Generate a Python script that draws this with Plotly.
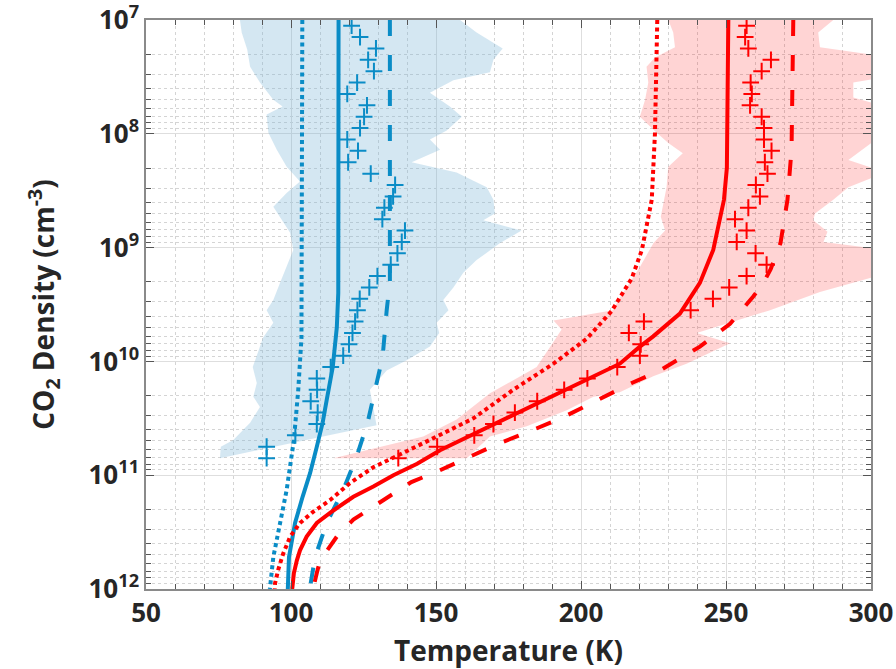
import plotly.graph_objects as go

# ---------------------------------------------------------------
# Data: temperature (K) versus log10 of CO2 number density (cm^-3)
# ---------------------------------------------------------------

# Model profiles, cold branch (blue)
BLUE_SOLID_LOGN = [7.0, 9.0, 9.4, 9.7, 10.05, 10.34, 10.54, 10.76, 10.98, 11.19, 11.42, 11.72, 11.98, 12.0]
BLUE_SOLID_T = [116.4, 116.4, 116.3, 115.8, 114.4, 112.3, 110.9, 108.8, 106.6, 104.0, 101.4, 99.3, 98.9, 98.9]

BLUE_DOT_LOGN = [7.0, 9.4, 9.8, 10.25, 10.69, 11.13, 11.42, 11.72, 11.98, 12.0]
BLUE_DOT_T = [103.9, 103.9, 103.6, 102.5, 101.0, 98.5, 96.2, 93.9, 92.8, 92.7]

BLUE_DASH_LOGN = [7.0, 9.3, 9.55, 9.96, 10.25, 10.54, 10.84, 11.13, 11.42, 11.72, 11.98, 12.0]
BLUE_DASH_T = [134.1, 134.1, 133.0, 131.6, 129.0, 126.4, 122.6, 118.0, 112.3, 108.3, 106.6, 106.5]

# Model profiles, warm branch (red)
RED_SOLID_LOGN = [7.0, 8.3, 8.58, 9.02, 9.31, 9.58, 9.78, 9.87, 10.02, 10.16, 10.38, 10.56, 10.78,
                  10.90, 11.0, 11.10, 11.19, 11.31, 11.42, 11.54, 11.66, 11.75, 11.86, 11.98, 12.0]
RED_SOLID_T = [250.8, 250.3, 249.3, 245.6, 241.0, 234.1, 224.9, 220.3, 213.4, 202.0, 184.7, 169.8, 151.4,
               143.5, 135.3, 128.4, 121.5, 114.6, 108.9, 105.4, 103.1, 102.0, 101.0, 100.5, 100.4]

RED_DOT_LOGN = [7.0, 8.0, 8.58, 9.02, 9.27, 9.45, 9.56, 9.80, 10.02, 10.25, 10.50, 10.69, 10.83,
                10.93, 11.07, 11.22, 11.32, 11.42, 11.54, 11.69, 11.83, 11.95, 12.0]
RED_DOT_T = [226.3, 225.5, 224.4, 221.0, 217.5, 213.4, 210.5, 202.0, 190.5, 176.6, 162.9, 147.9, 136.4,
             128.4, 120.3, 113.4, 107.7, 103.1, 99.7, 97.3, 95.6, 94.5, 94.4]

RED_DASH_LOGN = [7.0, 8.14, 8.58, 8.96, 9.19, 9.31, 9.43, 9.67, 9.87, 10.08, 10.19, 10.34, 10.49,
                 10.60, 10.73, 10.85, 10.97, 11.06, 11.16, 11.28, 11.39, 11.54, 11.66, 11.75, 11.86,
                 11.98, 12.0]
RED_DASH_T = [273.2, 272.6, 271.2, 268.8, 265.4, 262.9, 259.4, 251.4, 241.0, 227.2, 217.5, 205.4, 193.9,
              183.6, 170.9, 160.6, 150.2, 141.5, 135.3, 128.4, 121.5, 115.8, 112.3, 110.0, 108.9,
              107.7, 107.6]

# Retrieved temperatures (crosses), one per density bin
MARKER_LOGN = [7.05, 7.15, 7.25, 7.35, 7.45, 7.55, 7.65, 7.75, 7.85, 7.95,
               8.05, 8.15, 8.25, 8.35, 8.45, 8.55, 8.65, 8.75, 8.85, 8.95,
               9.05, 9.15, 9.25, 9.35, 9.45, 9.55, 9.65, 9.75, 9.85, 9.95,
               10.05, 10.15, 10.25, 10.35, 10.45, 10.55, 10.65, 10.75, 10.85]
BLUE_MARKER_T = [120.9, 123.8, 129.3, 126.6, 128.6, 122.8, 119.4, 126.2, 125.2, 123.8,
                 119.4, 123.1, 119.7, 127.5, 135.9, 135.2, 132.2, 131.5, 139.3, 138.2,
                 136.7, 134.4, 129.8, 127.0, 123.7, 122.9, 122.1, 121.2, 120.0, 118.0,
                 113.7, 108.9, 109.0, 106.8, 109.2, 108.9, 101.5, 91.6, 91.6]
RED_MARKER_T = [257.1, 256.6, 257.7, 265.5, 262.3, 258.5, 258.9, 258.3, 262.3, 263.1,
                263.1, 265.7, 263.4, 264.3, 260.3, 261.7, 257.7, 253.1, 257.1, 253.7,
                260.2, 264.0, 257.1, 251.1, 245.5, 237.8, 221.7, 216.5, 220.6, 220.3,
                212.5, 202.2, 194.2, 184.9, 177.2, 169.8, 163.2, 150.4, 137.0]

# Spread envelopes: upper (hot) edge listed top-down, lower (cold) edge listed bottom-up
BLUE_HI_LOGN = [7.0, 7.11, 7.25, 7.35, 7.46, 7.53, 7.64, 7.76, 7.85, 7.97, 8.05, 8.14, 8.25, 8.34,
                8.47, 8.58, 8.70, 8.76, 8.85, 8.96, 9.11, 9.22, 9.35, 9.46, 9.55, 9.66, 9.75, 9.87,
                9.99, 10.08, 10.25, 10.43, 10.56]
BLUE_HI_T = [158.3, 164.0, 173.0, 169.8, 168.6, 156.0, 147.9, 154.8, 158.9, 153.7, 147.9, 151.4, 141.6, 157.1,
             167.5, 169.8, 170.3, 166.3, 179.5, 172.1, 164.0, 159.4, 156.0, 152.5, 154.3, 150.2, 151.1, 147.9,
             139.9, 133.0, 127.2, 128.4, 129.5]
BLUE_LO_LOGN = [10.85, 10.75, 10.69, 10.54, 10.40, 10.31, 10.19, 10.05, 9.79, 9.66, 9.55, 9.46, 9.31,
                9.17, 9.02, 8.87, 8.73, 8.64, 8.52, 8.42, 8.29, 8.14, 7.99, 7.83, 7.76, 7.70, 7.55,
                7.41, 7.26, 7.11, 7.0]
BLUE_LO_T = [75.5, 75.8, 80.1, 85.9, 89.3, 87.0, 88.2, 86.8, 90.4, 93.9, 91.6, 93.9, 96.2,
             98.5, 100.8, 99.7, 96.2, 93.9, 98.5, 103.1, 98.5, 95.1, 92.2, 91.6, 97.1, 93.9, 89.3,
             85.9, 84.9, 83.0, 82.4]

RED_HI_LOGN = [7.0, 7.11, 7.24, 7.32, 7.50, 7.55, 7.68, 7.76, 7.99, 8.23, 8.34, 8.47, 8.58, 8.70,
               8.76, 8.86, 8.95, 9.02, 9.23, 9.39, 9.55, 9.75, 9.84, 10.02, 10.13, 10.27, 10.31,
               10.43, 10.57, 10.66, 10.85]
RED_HI_T = [287.0, 281.8, 282.4, 305.0, 305.0, 293.9, 293.9, 305.0, 305.0, 292.2, 305.0, 292.2, 287.0, 280.7,
            280.1, 285.0, 283.6, 305.0, 305.0, 282.4, 265.2, 239.9, 251.4, 236.4, 224.9, 213.4, 204.3,
            195.1, 181.3, 168.6, 160.6]
RED_LO_LOGN = [10.85, 10.66, 10.51, 10.28, 10.05, 9.81, 9.72, 9.64, 9.55, 9.44, 9.35, 9.17, 8.96,
               8.85, 8.73, 8.61, 8.47, 8.29, 8.17, 8.08, 7.99, 7.85, 7.70, 7.55, 7.41, 7.33, 7.24,
               7.11, 7.0]
RED_LO_T = [114.6, 145.6, 157.1, 168.6, 184.7, 191.0, 193.3, 190.5, 211.0, 213.4, 215.7, 220.3, 225.0,
            229.0, 227.5, 228.4, 229.5, 230.1, 235.1, 230.1, 226.1, 220.3, 222.1, 223.2, 222.6, 225.5, 232.4,
            231.8, 230.1]

Y_TICK_EXP = [7, 8, 9, 10, 11, 12]
X_TICKS = [50, 100, 150, 200, 250, 300]

# ---------------------------------------------------------------
BLUE = "#0a8cc6"
RED = "#ff0000"
BLUE_FILL = "rgba(120,180,215,0.32)"
RED_FILL = "rgba(255,0,0,0.17)"
FONT = "Open Sans"
TEXT = "#262626"


def dens(logs):
    return [10.0 ** v for v in logs]


fig = go.Figure()


def add_branch(color, fill, hi_t, hi_l, lo_t, lo_l, curves, mk_t):
    fig.add_trace(go.Scatter(
        x=hi_t + lo_t, y=dens(hi_l + lo_l), mode="lines", fill="toself",
        fillcolor=fill, line=dict(width=0), hoverinfo="skip", showlegend=False))
    for t, l, dash, w in curves:
        fig.add_trace(go.Scatter(
            x=t, y=dens(l), mode="lines",
            line=dict(color=color, width=w, dash=dash),
            showlegend=False))
    fig.add_trace(go.Scatter(
        x=mk_t, y=dens(MARKER_LOGN), mode="markers",
        marker=dict(symbol="cross-thin", size=12, line=dict(color=color, width=2)),
        showlegend=False))


add_branch(BLUE, BLUE_FILL, BLUE_HI_T, BLUE_HI_LOGN, BLUE_LO_T, BLUE_LO_LOGN,
           [(BLUE_SOLID_T, BLUE_SOLID_LOGN, "solid", 4),
            (BLUE_DOT_T, BLUE_DOT_LOGN, "4px,3.5px", 4),
            (BLUE_DASH_T, BLUE_DASH_LOGN, "16px,19px", 4)],
           BLUE_MARKER_T)
add_branch(RED, RED_FILL, RED_HI_T, RED_HI_LOGN, RED_LO_T, RED_LO_LOGN,
           [(RED_SOLID_T, RED_SOLID_LOGN, "solid", 4),
            (RED_DOT_T, RED_DOT_LOGN, "4px,3.5px", 4),
            (RED_DASH_T, RED_DASH_LOGN, "16px,19px", 4)],
           RED_MARKER_T)

minor_y = [k * 10.0 ** d for d in range(7, 12) for k in range(2, 10)]

axis_common = dict(
    showline=True, linecolor="#8a8a8a", linewidth=1.5, mirror="ticks",
    ticks="inside", tickcolor="#555555", tickwidth=1, ticklen=8,
    showgrid=True, gridcolor="#dedede", gridwidth=1, zeroline=False,
    automargin=False, ticklabeloverflow="allow",
    tickfont=dict(family=FONT, size=26, color=TEXT, weight="bold"),
)

fig.update_layout(
    width=896, height=669,
    margin=dict(l=146, r=25, t=20, b=80),
    paper_bgcolor="white", plot_bgcolor="white",
    xaxis=dict(
        range=[50, 300], tickvals=X_TICKS, ticktext=[str(v) for v in X_TICKS],
        minor=dict(dtick=10, ticks="inside", ticklen=5, tickcolor="#555555",
                   showgrid=True, gridcolor="#d4d4d4", griddash="dot"),
        title=dict(text="Temperature (K)", standoff=16,
                   font=dict(family=FONT, size=28, color=TEXT, weight="bold")),
        **axis_common,
    ),
    yaxis=dict(
        type="log", range=[12, 7],
        tickvals=[10.0 ** e for e in Y_TICK_EXP],
        ticktext=["10<sup>%d</sup>" % e for e in Y_TICK_EXP],
        minor=dict(tickvals=minor_y, ticks="inside", ticklen=5, tickcolor="#555555",
                   showgrid=True, gridcolor="#d4d4d4", griddash="dot"),
        title=dict(text="CO<sub>2</sub> Density (cm<sup>-3</sup>)", standoff=26,
                   font=dict(family=FONT, size=28, color=TEXT, weight="bold")),
        **axis_common,
    ),
)

fig.write_html("out.html")
